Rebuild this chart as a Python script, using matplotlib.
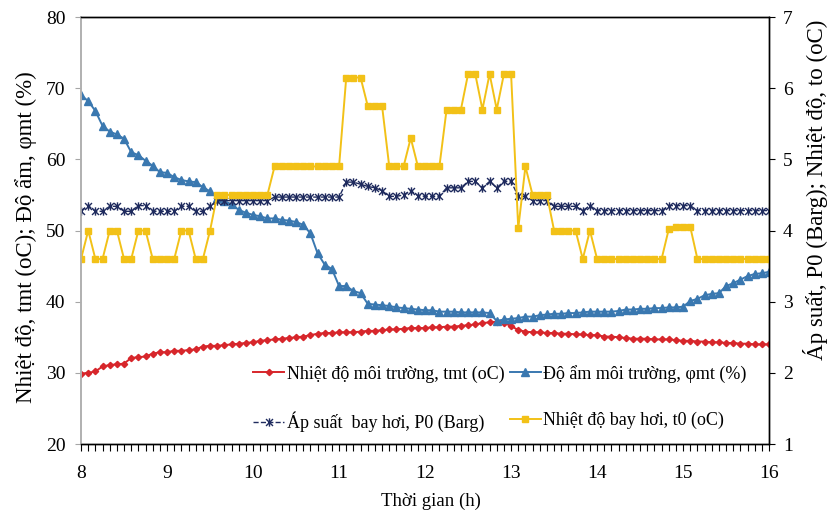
import numpy as np
import matplotlib
matplotlib.use("Agg")
import matplotlib.pyplot as plt
from matplotlib.path import Path
from matplotlib.ticker import MultipleLocator

plt.rcParams['font.family'] = ['Liberation Serif', 'DejaVu Serif']

# readings every 5 minutes, 8:00 -> 16:00
time_h = 8 + np.arange(97) * 5 / 60

# left axis
t_mt = [29.9, 30.0, 30.2, 30.9, 31.1, 31.2, 31.3, 32.1, 32.2, 32.3, 32.7, 32.9,
        32.9, 33.1, 33.1, 33.2, 33.3, 33.7, 33.8, 33.8, 33.9, 34.0, 34.1, 34.2,
        34.3, 34.5, 34.6, 34.7, 34.8, 34.9, 35.0, 35.1, 35.3, 35.5, 35.6, 35.6,
        35.7, 35.7, 35.7, 35.8, 35.9, 35.9, 36.0, 36.1, 36.1, 36.2, 36.3, 36.3,
        36.3, 36.4, 36.4, 36.5, 36.5, 36.6, 36.7, 36.8, 37.0, 37.1, 37.2, 37.0,
        36.6, 36.0, 35.8, 35.7, 35.7, 35.6, 35.6, 35.5, 35.5, 35.4, 35.4, 35.3,
        35.3, 35.1, 35.1, 35.0, 34.9, 34.8, 34.8, 34.8, 34.7, 34.7, 34.7, 34.6,
        34.5, 34.5, 34.4, 34.4, 34.3, 34.3, 34.2, 34.2, 34.1, 34.1, 34.0, 34.0,
        34.0]
phi_mt = [69.0, 68.2, 66.8, 64.7, 63.9, 63.5, 62.9, 61.0, 60.6, 59.8, 59.1, 58.2,
          58.1, 57.5, 57.1, 56.9, 56.8, 56.1, 55.5, 54.6, 54.1, 53.7, 52.9, 52.5,
          52.2, 52.0, 51.7, 51.7, 51.5, 51.4, 51.2, 50.8, 49.6, 46.8, 45.2, 44.6,
          42.2, 42.2, 41.5, 41.2, 39.7, 39.6, 39.5, 39.4, 39.2, 39.1, 39.0, 38.9,
          38.8, 38.8, 38.6, 38.6, 38.6, 38.5, 38.5, 38.5, 38.5, 38.4, 37.3, 37.5,
          37.6, 37.7, 37.9, 37.9, 38.1, 38.2, 38.3, 38.3, 38.4, 38.4, 38.5, 38.6,
          38.6, 38.6, 38.6, 38.7, 38.9, 38.9, 39.0, 39.0, 39.1, 39.1, 39.2, 39.2,
          39.3, 40.1, 40.4, 40.9, 41.1, 41.2, 42.2, 42.6, 43.1, 43.6, 43.9, 44.0,
          44.2]

# right axis
p0 = [4.28, 4.35, 4.27, 4.27, 4.34, 4.34, 4.27, 4.27, 4.35, 4.35, 4.27, 4.27,
      4.27, 4.27, 4.34, 4.34, 4.27, 4.27, 4.34, 4.42, 4.42, 4.42, 4.42, 4.42,
      4.42, 4.42, 4.42, 4.47, 4.47, 4.47, 4.47, 4.47, 4.47, 4.47, 4.47, 4.47,
      4.47, 4.68, 4.68, 4.65, 4.62, 4.60, 4.56, 4.48, 4.48, 4.50, 4.56, 4.49,
      4.48, 4.48, 4.48, 4.60, 4.60, 4.60, 4.69, 4.69, 4.60, 4.69, 4.60, 4.69,
      4.69, 4.48, 4.48, 4.42, 4.42, 4.42, 4.34, 4.34, 4.34, 4.34, 4.28, 4.35,
      4.28, 4.28, 4.28, 4.28, 4.28, 4.28, 4.28, 4.28, 4.28, 4.28, 4.35, 4.35,
      4.35, 4.35, 4.28, 4.28, 4.28, 4.28, 4.28, 4.28, 4.28, 4.28, 4.28, 4.28,
      4.28]
t0 = [3.6, 4.0, 3.6, 3.6, 4.0, 4.0, 3.6, 3.6, 4.0, 4.0, 3.6, 3.6,
      3.6, 3.6, 4.0, 4.0, 3.6, 3.6, 4.0, 4.5, 4.5, 4.5, 4.5, 4.5,
      4.5, 4.5, 4.5, 4.9, 4.9, 4.9, 4.9, 4.9, 4.9, 4.9, 4.9, 4.9,
      4.9, 6.15, 6.15, 6.15, 5.75, 5.75, 5.75, 4.9, 4.9, 4.9, 5.3, 4.9,
      4.9, 4.9, 4.9, 5.7, 5.7, 5.7, 6.2, 6.2, 5.7, 6.2, 5.7, 6.2,
      6.2, 4.03, 4.9, 4.5, 4.5, 4.5, 4.0, 4.0, 4.0, 4.0, 3.6, 4.0,
      3.6, 3.6, 3.6, 3.6, 3.6, 3.6, 3.6, 3.6, 3.6, 3.6, 4.02, 4.05,
      4.05, 4.05, 3.6, 3.6, 3.6, 3.6, 3.6, 3.6, 3.6, 3.6, 3.6, 3.6,
      3.6]

# excel style star marker (x + vertical bar)
star = Path([(-1, -1), (1, 1), (-1, 1), (1, -1), (0, -1.2), (0, 1.2)],
            [Path.MOVETO, Path.LINETO, Path.MOVETO, Path.LINETO, Path.MOVETO, Path.LINETO])

fig = plt.figure(figsize=(8.27, 5.16), dpi=100)
ax = fig.add_axes([0.098, 0.1395, 0.832, 0.8275])
ax2 = ax.twinx()

l1, = ax.plot(time_h, t_mt, color='#D7262B', lw=1.4, marker='D', ms=3.2,
              label='Nhiệt độ môi trường, tmt (oC)')
l2, = ax.plot(time_h, phi_mt, color='#3A78B0', lw=1.4, marker='^', ms=5.5,
              label='Độ ẩm môi trường, φmt (%)')
l3, = ax2.plot(time_h, p0, color='#1F2B5E', lw=1.0, ls='--', marker=star, ms=6,
               mew=1.0, label='Áp suất  bay hơi, P0 (Barg)')
l4, = ax2.plot(time_h, t0, color='#F2C117', lw=1.4, marker='s', ms=3.8,
               label='Nhiệt độ bay hơi, t0 (oC)')

ax.set_xlim(8, 16)
ax.set_ylim(20, 80)
ax2.set_ylim(1, 7)
ax.xaxis.set_major_locator(MultipleLocator(1))
ax.xaxis.set_minor_locator(MultipleLocator(5 / 60))
ax.yaxis.set_major_locator(MultipleLocator(10))
ax2.yaxis.set_major_locator(MultipleLocator(1))

ax.tick_params(axis='x', which='both', direction='out', length=5, width=0.8,
               labelsize=14, pad=10)
ax.tick_params(axis='y', direction='out', length=4.3, color='#A6A6A6',
               labelsize=14, pad=7)
ax2.tick_params(axis='y', direction='out', length=4, width=0.8,
                labelsize=14, pad=6)

for a in (ax, ax2):
    a.spines['left'].set_color('#B0B0B0')
    a.spines['left'].set_linewidth(1.2)
    a.spines['top'].set_linewidth(1.0)
    a.spines['right'].set_linewidth(1.0)
    a.spines['bottom'].set_linewidth(1.0)

# axis titles placed where the original has them
fig.text(431 / 827, 1 - 501 / 516, 'Thời gian (h)', fontsize=13.5,
         ha='center', va='center')
fig.text(26 / 827, 1 - 237 / 516, 'Nhiệt độ, tmt (oC); Độ ẩm, φmt (%)',
         fontsize=16.5, rotation=90, ha='center', va='center')
fig.text(816 / 827, 1 - 190 / 516, 'Áp suất, P0 (Barg); Nhiệt độ, to (oC)',
         fontsize=16.5, rotation=90, ha='center', va='center')

ax.legend([l1, l3, l2, l4], [l1.get_label(), l3.get_label(), l2.get_label(), l4.get_label()],
          ncol=2, loc='center', bbox_to_anchor=(0.609, 0.1066), frameon=False,
          fontsize=13, labelspacing=1.6, columnspacing=0.3, handlelength=1.7,
          handletextpad=0.15, borderpad=0)

fig.savefig('out.png', dpi=100)
